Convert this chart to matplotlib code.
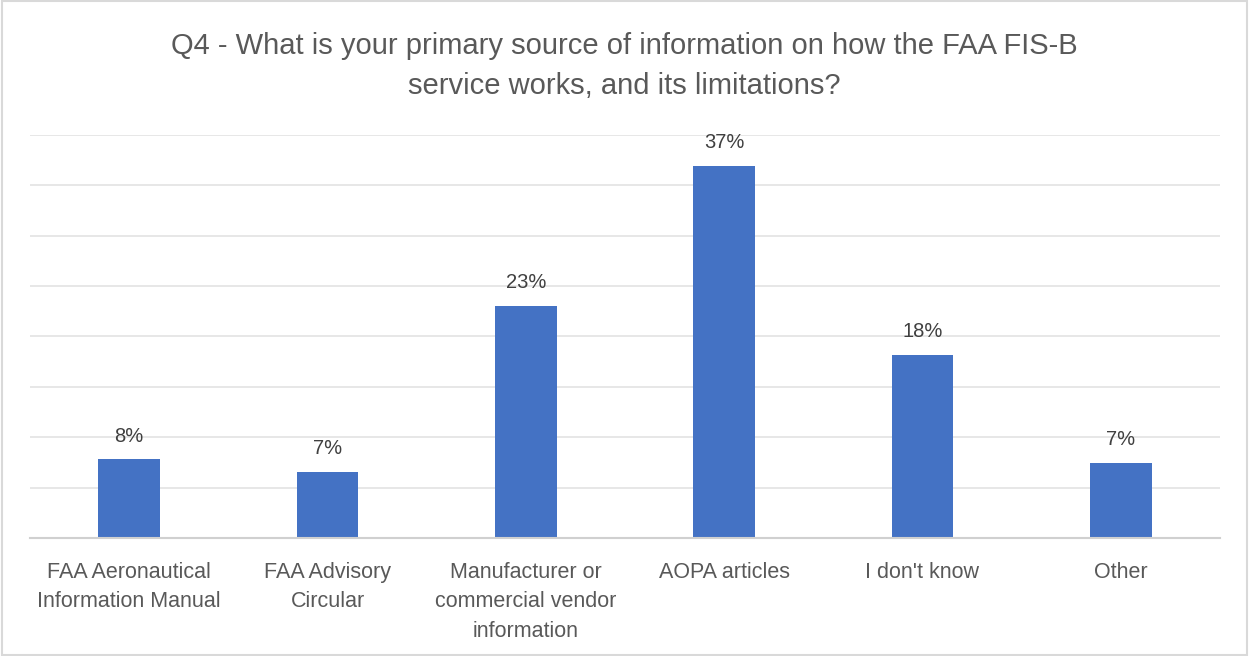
import matplotlib.pyplot as plt
from matplotlib.patches import Rectangle

plt.rcParams['font.family'] = ['Liberation Sans', 'DejaVu Sans']

categories = ['FAA Aeronautical\nInformation Manual', 'FAA Advisory\nCircular',
              'Manufacturer or\ncommercial vendor\ninformation', 'AOPA articles',
              "I don't know", 'Other']
values = [7.8, 6.55, 23.0, 36.97, 18.2, 7.44]
labels = ['8%', '7%', '23%', '37%', '18%', '7%']
title = 'Q4 - What is your primary source of information on how the FAA FIS-B\nservice works, and its limitations?'

grey = '#595959'

fig = plt.figure(figsize=(12.49, 6.56), dpi=100)
ax = fig.add_axes([30 / 1249, 1 - 538 / 656, 1190 / 1249, 403 / 656])

x = range(len(categories))
ax.bar(x, values, width=0.31, color='#4472C4', zorder=3)
for xi, v, lab in zip(x, values, labels):
    ax.annotate(lab, (xi, v), xytext=(0, 10), textcoords='offset points',
                ha='center', va='bottom', fontsize=14.5, color='#404040')

ax.set_xlim(-0.5, len(categories) - 0.5)
ax.set_ylim(0, 40)
ax.set_yticks(range(0, 41, 5))
ax.yaxis.grid(True, color='#E3E3E3', linewidth=1.2, zorder=0)
ax.tick_params(axis='y', left=False, labelleft=False)
ax.set_xticks(list(x))
ax.set_xticklabels(categories, fontsize=15.5, color=grey, linespacing=1.55)
ax.tick_params(axis='x', length=0, pad=17)
for s in ['top', 'right', 'left']:
    ax.spines[s].set_visible(False)
ax.spines['bottom'].set_color('#D0D0D0')
ax.spines['bottom'].set_linewidth(1.5)
ax.spines['bottom'].set_zorder(4)

fig.text(0.5, 1 - 66 / 656, title, ha='center', va='center', fontsize=21,
         color=grey, linespacing=1.5)

fig.patches.append(Rectangle((0.002, 0.002), 0.996, 0.996, transform=fig.transFigure,
                             fill=False, edgecolor='#D9D9D9', linewidth=1.5))

fig.savefig('out.png', dpi=100)
